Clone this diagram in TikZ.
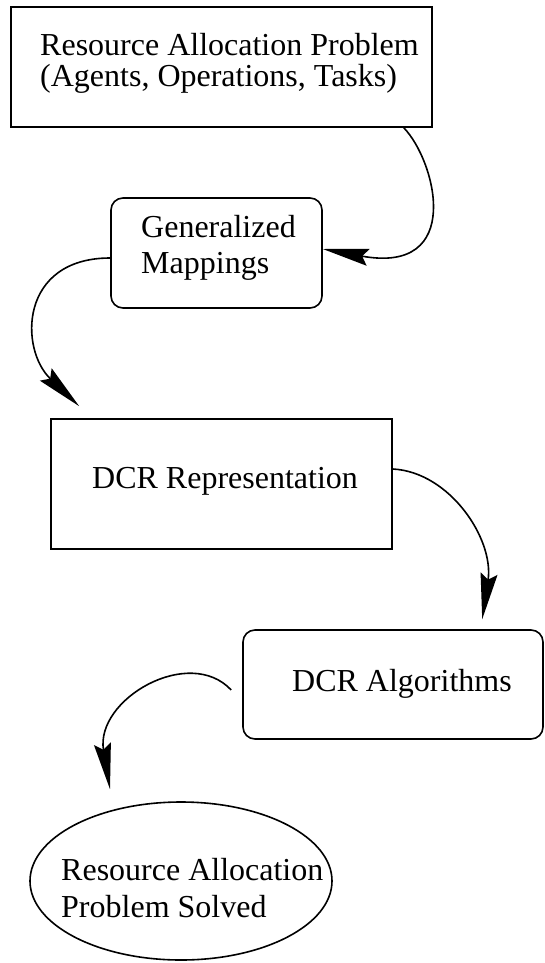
\documentclass[tikz,border=0pt]{standalone}
\usepackage{fontspec}
\setmainfont{Liberation Serif}
\usetikzlibrary{arrows.meta,shapes.geometric}
\begin{document}
\begin{tikzpicture}[x=1pt,y=-1pt,
  box/.style={draw,line width=1.6pt,inner sep=0pt},
  rbox/.style={box,rounded corners=12pt},
  oval/.style={draw,line width=1.6pt,inner sep=0pt,ellipse},
  lbl/.style={inner sep=0pt,anchor=base west,font=\fontsize{32}{36}\selectfont},
  conn/.style={line width=1.6pt,-{Stealth[length=46pt,width=17pt,inset=6pt]}}]
\useasboundingbox (0,0) rectangle (545,963);
% shapes
\node[box,minimum width=421pt,minimum height=120pt] (b1) at (221.5,67) {};
\node[rbox,minimum width=211pt,minimum height=110pt] (b2) at (216.5,253) {};
\node[box,minimum width=341pt,minimum height=130pt] (b3) at (221.5,484) {};
\node[rbox,minimum width=300pt,minimum height=109pt] (b4) at (393,684.5) {};
\node[oval,minimum width=302pt,minimum height=158pt] (el) at (181,881) {};
% texts
\node[lbl] (t1a) at (40,56) {Resource Allocation Problem};
\node[lbl] (t1b) at (40,87) {(Agents, Operations, Tasks)};
\node[lbl] (t2a) at (141,237) {Generalized};
\node[lbl] (t2b) at (141,273) {Mappings};
\node[lbl] (t3) at (92,488) {DCR Representation};
\node[lbl] (t4) at (292,691) {DCR Algorithms};
\node[lbl] (t5a) at (61,880) {Resource Allocation};
\node[lbl] (t5b) at (61,917) {Problem Solved};
% connectors
\draw[conn] ([xshift=-29pt]b1.south east) .. controls +(32,33) and +(142,26) .. ([yshift=4pt]b2.east);
\draw[conn] ([yshift=-5pt]b2.west) .. controls +(-91,0) and +(-60,-57) .. ([xshift=29pt,yshift=12pt]b3.north west);
\draw[conn] ([yshift=15pt]b3.east) .. controls +(57,3) and +(12,-80) .. ([xshift=240pt,yshift=10pt]b4.north west);
\draw[conn] ([xshift=-11pt,yshift=-5.5pt]b4.west) .. controls +(-42,-45) and +(-15,-90) .. ([xshift=-71pt,yshift=12pt]el.north);
\end{tikzpicture}
\end{document}
